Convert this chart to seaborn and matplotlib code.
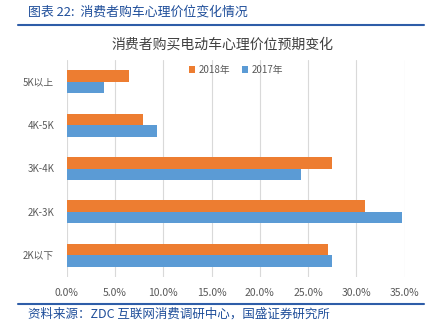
import matplotlib
matplotlib.use("Agg")
import matplotlib.pyplot as plt
import seaborn as sns
import pandas as pd
from matplotlib.ticker import PercentFormatter
from matplotlib.lines import Line2D

categories = ["5K以上", "4K-5K", "3K-4K", "2K-3K", "2K以下"]
values_2018 = [6.5, 7.9, 27.5, 30.9, 27.1]
values_2017 = [3.9, 9.3, 24.3, 34.7, 27.5]
series = ["2018年", "2017年"]
xticks = [0, 5, 10, 15, 20, 25, 30, 35]

df = pd.DataFrame({
    "cat": categories * 2,
    "val": values_2018 + values_2017,
    "year": [series[0]] * len(categories) + [series[1]] * len(categories),
})

sns.set_theme(style="white")
plt.rcParams["font.family"] = ["Noto Sans CJK SC", "DejaVu Sans"]

fig = plt.figure(figsize=(4.38, 3.33), dpi=100)
ax = fig.add_axes([66.7 / 438, 1 - 277 / 333, (404.7 - 66.7) / 438, 217 / 333])

sns.barplot(data=df, y="cat", x="val", hue="year", hue_order=series,
            order=categories, orient="h", width=0.53,
            palette=["#ED7D31", "#5B9BD5"], saturation=1, ax=ax,
            edgecolor="none", linewidth=0)

ax.set_xlim(0, 35)
ax.set_xticks(xticks)
ax.xaxis.set_major_formatter(PercentFormatter(decimals=1))
ax.grid(axis="x", color="#D9D9D9", linewidth=0.8)
ax.set_axisbelow(True)
for s in ax.spines.values():
    s.set_visible(False)
ax.set_xlabel("")
ax.set_ylabel("")
ax.tick_params(axis="both", length=0, labelsize=7.5, colors="#595959")
ax.tick_params(axis="y", labelsize=7, pad=9)
ax.tick_params(axis="x", pad=8)

leg = ax.legend(loc="center", bbox_to_anchor=(0.5, 0.955), ncol=2, frameon=False,
                fontsize=7, handlelength=0.7, handleheight=0.7, handletextpad=0.3,
                columnspacing=1.2)
for t in leg.get_texts():
    t.set_color("#595959")

fig.text(222 / 438, 1 - 45 / 333, "消费者购买电动车心理价位预期变化", ha="center", va="center",
         fontsize=10, color="#404040")

blue = "#1F4E9A"
fig.text(28 / 438, 1 - 12 / 333, "图表 22:  消费者购车心理价位变化情况", ha="left", va="center",
         fontsize=9.3, color=blue, fontstyle="italic")
fig.add_artist(Line2D([18 / 438, 424 / 438], [1 - 25 / 333, 1 - 25 / 333],
                      color="#2E5DA8", linewidth=1.5, transform=fig.transFigure))
fig.add_artist(Line2D([18 / 438, 424 / 438], [1 - 304 / 333, 1 - 304 / 333],
                      color="#2E5DA8", linewidth=1.5, transform=fig.transFigure))
fig.text(28 / 438, 1 - 314 / 333, "资料来源：ZDC 互联网消费调研中心，国盛证券研究所", ha="left",
         va="center", fontsize=9, color=blue, fontstyle="italic")

fig.savefig("out.png", dpi=100)
